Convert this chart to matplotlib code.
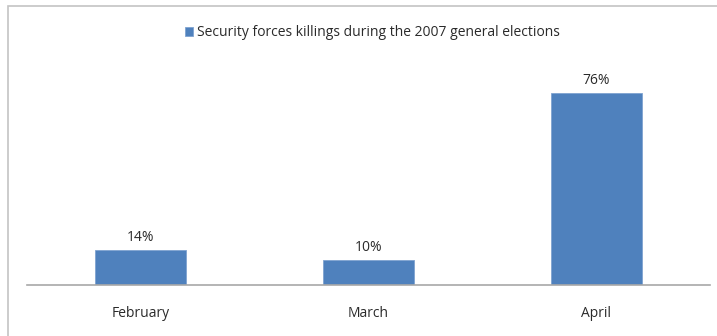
import matplotlib
matplotlib.use('Agg')
import matplotlib.pyplot as plt
from matplotlib.patches import Rectangle

months = ['February', 'March', 'April']
shares = [14, 10, 76]
labels = ['14%', '10%', '76%']
series_name = 'Security forces killings during the 2007 general elections'

plt.rcParams['font.family'] = ['Open Sans', 'DejaVu Sans']

fig = plt.figure(figsize=(7.17, 3.36), dpi=100)
# outer chart frame, only top and left edges are visible in the crop
fig.patches.append(Rectangle((8/717, -10/336), 720/717, 340/336, transform=fig.transFigure,
                             fill=False, edgecolor='#c4c4c4', linewidth=1.2))

ax = fig.add_axes([27/717, 51/336, 683/717, 225/336])
x = range(len(months))
bars = ax.bar(x, shares, width=0.4, color='#4f81bd', edgecolor='#7fa3d0', linewidth=0.6,
              label=series_name)
for xi, v, lab in zip(x, shares, labels):
    ax.text(xi, v + 2.0, lab, ha='center', va='bottom', fontsize=10, color='#2a2a2a')

ax.set_xlim(-0.5, 2.5)
ax.set_ylim(0, 89)
ax.set_xticks(list(x))
ax.set_xticklabels(months, fontsize=10, color='#2a2a2a')
ax.tick_params(axis='x', length=0, pad=15)
ax.set_yticks([])
for s in ['top', 'left', 'right']:
    ax.spines[s].set_visible(False)
ax.spines['bottom'].set_color('#a8a8a8')
ax.spines['bottom'].set_linewidth(1.2)

fig.legend(loc='center', bbox_to_anchor=(372/717, 1 - 33/336), frameon=False,
           fontsize=10, handlelength=0.62, handleheight=0.62, handletextpad=0.25,
           labelcolor='#2a2a2a')

fig.savefig('out.png', dpi=100)
